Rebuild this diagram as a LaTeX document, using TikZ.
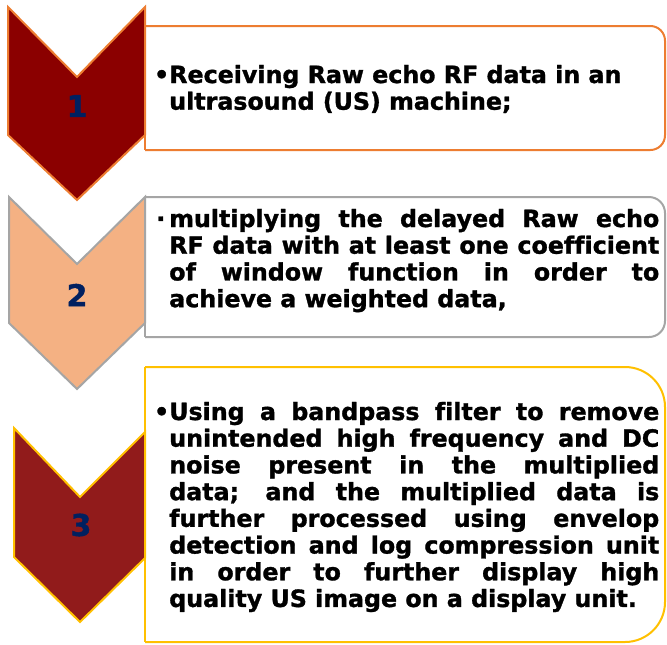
\documentclass[tikz,border=0pt]{standalone}
\usepackage{fontspec}
\setmainfont{DejaVu Sans}[Ligatures=NoCommon, BoldFeatures={FakeBold=1.3}]
\definecolor{chevOneFill}{HTML}{8B0000}
\definecolor{chevOneLine}{HTML}{ED7D31}
\definecolor{chevTwoFill}{HTML}{F4B183}
\definecolor{chevTwoLine}{HTML}{A5A5A5}
\definecolor{chevThreeFill}{HTML}{911B1B}
\definecolor{chevThreeLine}{HTML}{FFC000}
\definecolor{numNavy}{HTML}{002060}
\newlength{\linew}
\setlength{\linew}{367.5pt}
\newcommand{\jl}[1]{\makebox[\linew][s]{#1}}
\tikzset{
  chevbase/.style={line width=1.5pt, line join=miter},
  boxbase/.style={line width=1.5pt, rounded corners=#1},
  numlabel/.style={font=\fontsize{22.5pt}{24pt}\selectfont\bfseries, text=numNavy, inner sep=0pt},
  bodytext/.style={font=\fontsize{17.8pt}{20.03pt}\selectfont\bfseries, text=black, inner sep=0pt, anchor=base west}
}
\begin{document}
\begin{tikzpicture}[x=0.75pt,y=-0.75pt]
\useasboundingbox (0,0) rectangle (667,644);
\clip (0,0) rectangle (667,644);
\fill[white] (0,0) rectangle (667,644);
% boxes
\draw[boxbase=11pt, draw=chevOneLine] (145,26) -- (665,26) -- (665,150) -- (145,150);
\draw[line width=1.5pt, draw=chevOneLine] (145,26) -- (145,150);
\draw[boxbase=12pt, draw=chevTwoLine] (145,197) -- (665,197) -- (665,337) -- (145,337);
\draw[line width=1.5pt, draw=chevTwoLine] (145,197) -- (145,337);
\draw[boxbase=30pt, draw=chevThreeLine] (145,367) -- (665,367) -- (665,642) -- (145,642);
\draw[line width=1.5pt, draw=chevThreeLine] (145,367) -- (145,642);
% chevrons
\draw[chevbase, fill=chevOneFill, draw=chevOneLine] (8,7) -- (77,77) -- (145,7) -- (145,135) -- (77,200) -- (8,135) -- cycle;
\draw[chevbase, fill=chevTwoFill, draw=chevTwoLine] (9,197) -- (77,264) -- (145,197) -- (145,323) -- (77,389) -- (9,323) -- cycle;
\draw[chevbase, fill=chevThreeFill, draw=chevThreeLine] (14,428) -- (80,497) -- (145,432) -- (145,558) -- (80,622) -- (14,557) -- cycle;
% numbers
\node[numlabel] (n1) at (77,106) {1};
\node[numlabel] (n2) at (77,295) {2};
\node[numlabel] (n3) at (81,525) {3};
% texts
\node[bodytext] (t1) at (169,83) {\begin{tabular}[t]{@{}l@{}}
\llap{•}Receiving Raw echo RF data in an\\
ultrasound (US) machine;
\end{tabular}};
\node[bodytext] (t2) at (169,227) {\begin{tabular}[t]{@{}l@{}}
\llap{·\hspace{3pt}}\jl{multiplying the delayed Raw echo}\\
\jl{RF data with at least one coefficient}\\
\jl{of window function in order to}\\
achieve a weighted data,
\end{tabular}};
\node[bodytext] (t3) at (169,420) {\begin{tabular}[t]{@{}l@{}}
\llap{•}\jl{Using a bandpass filter to remove}\\
\jl{unintended high frequency and DC}\\
\jl{noise present in the multiplied}\\
\jl{data; and the multiplied data is}\\
\jl{further processed using envelop}\\
\jl{detection and log compression unit}\\
\jl{in order to further display high}\\
quality US image on a display unit.
\end{tabular}};
\end{tikzpicture}
\end{document}
